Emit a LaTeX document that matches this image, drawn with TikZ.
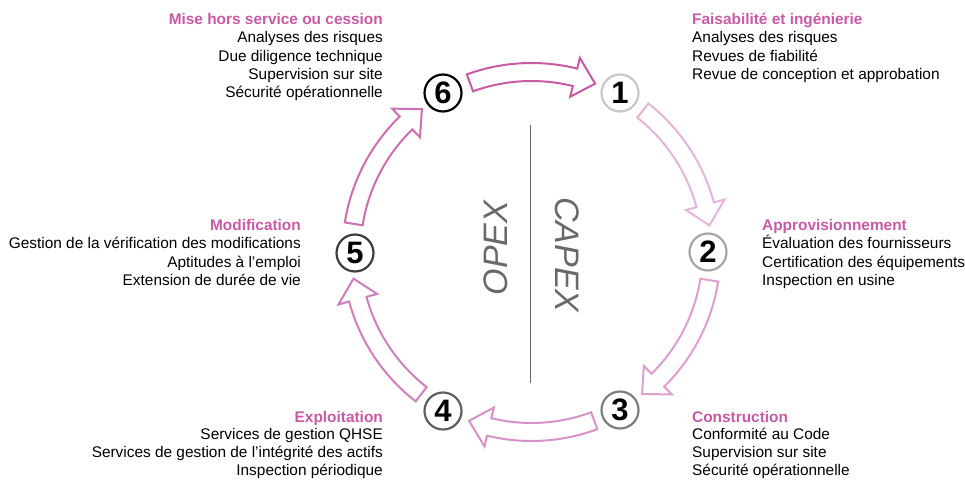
\documentclass[tikz,border=0pt]{standalone}
\usepackage{fontspec}
\setmainfont{Liberation Sans}
\usetikzlibrary{calc}
\definecolor{mPink}{RGB}{200,90,165}
\definecolor{mGray}{RGB}{105,105,105}
% arrow outlines, dark to light
\definecolor{arrSixOne}{RGB}{200,90,165}
\definecolor{arrOneTwo}{RGB}{230,180,218}
\definecolor{arrTwoThree}{RGB}{222,158,208}
\definecolor{arrThreeFour}{RGB}{216,144,200}
\definecolor{arrFourFive}{RGB}{208,126,190}
\definecolor{arrFiveSix}{RGB}{204,110,178}
% ring colours of the stage circles
\definecolor{ringOne}{RGB}{200,200,200}
\definecolor{ringTwo}{RGB}{165,165,165}
\definecolor{ringThree}{RGB}{125,125,125}
\definecolor{ringFour}{RGB}{95,95,95}
\definecolor{ringFive}{RGB}{60,60,60}
\definecolor{ringSix}{RGB}{0,0,0}

\begin{document}
\begin{tikzpicture}[x=1pt, y=-1pt,
    stage/.style={circle, fill=white, line width=2.2pt, minimum size=37pt, inner sep=0pt,
      font=\fontsize{31}{31}\selectfont\bfseries},
    phasetitle/.style={inner sep=0pt, text=mPink, font=\fontsize{15.4}{18}\selectfont\bfseries},
    phaseitem/.style={inner sep=0pt, font=\fontsize{15.4}{18}\selectfont},
    cyclearrow/.style={line width=2pt, line join=miter},
    budget/.style={text=mGray, font=\fontsize{34}{34}\selectfont\itshape}]
  \useasboundingbox (0,0) rectangle (965,479);
  \coordinate (hub) at (531.5,252);

  % curved hollow arrows between the stages
  \foreach \a/\b/\col in {-110/-69.3/arrSixOne, -51.8/-8.5/arrOneTwo, 9/52.1/arrTwoThree,
      69.6/110.3/arrThreeFour, 127.8/171.5/arrFourFive, 189/232.5/arrFiveSix} {
    \pgfmathsetmacro\h{\b-6.7}
    \draw[cyclearrow, draw=\col] ($(hub)+(\a:189)$) arc[start angle=\a, end angle=\h, radius=189]
      -- ($(hub)+(\h:200)$) -- ($(hub)+(\b:180)$) -- ($(hub)+(\h:160)$)
      -- ($(hub)+(\h:171)$) arc[start angle=\h, end angle=\a, radius=171] -- cycle;
  }

  % stage circles
  \node[stage, draw=ringOne] (n1) at (620,93) {1};
  \node[stage, draw=ringTwo] (n2) at (708,252) {2};
  \node[stage, draw=ringThree] (n3) at (620,410) {3};
  \node[stage, draw=ringFour] (n4) at (443,411) {4};
  \node[stage, draw=ringFive] (n5) at (355,253) {5};
  \node[stage, draw=ringSix] (n6) at (443,93) {6};

  % OPEX / CAPEX split
  \coordinate (splittop) at (530.7,125);
  \coordinate (splitbot) at (530.7,383);
  \draw[mGray, line width=1.3pt] (splittop) -- (splitbot);
  \node[budget, rotate=90] (opex) at (496,248) {OPEX};
  \node[budget, rotate=-90] (capex) at (567,255) {CAPEX};

  % 1 - feasibility
  \node[phasetitle, anchor=base west] (t1) at (692,24.5) {Faisabilité et ingénierie};
  \foreach \txt [count=\i] in {Analyses des risques, Revues de fiabilité, Revue de conception et approbation}
    \node[phaseitem, anchor=base west] (t1-\i) at (692,24.5+18.3*\i) {\txt};
  % 2 - procurement
  \node[phasetitle, anchor=base west] (t2) at (762,230.5) {Approvisionnement};
  \foreach \txt [count=\i] in {Évaluation des fournisseurs, Certification des équipements, Inspection en usine}
    \node[phaseitem, anchor=base west] (t2-\i) at (762,230.5+18.3*\i) {\txt};
  % 3 - construction
  \node[phasetitle, anchor=base west] (t3) at (692,422) {Construction};
  \foreach \txt [count=\i] in {Conformité au Code, Supervision sur site, Sécurité opérationnelle}
    \node[phaseitem, anchor=base west] (t3-\i) at (692,422+17.8*\i) {\txt};
  % 4 - operation
  \node[phasetitle, anchor=base east] (t4) at (383,422) {Exploitation};
  \foreach \txt [count=\i] in {Services de gestion QHSE, Services de gestion de l’intégrité des actifs, Inspection périodique}
    \node[phaseitem, anchor=base east] (t4-\i) at (383,422+17.8*\i) {\txt};
  % 5 - modification
  \node[phasetitle, anchor=base east] (t5) at (301,230.5) {Modification};
  \foreach \txt [count=\i] in {Gestion de la vérification des modifications, Aptitudes à l’emploi, Extension de durée de vie}
    \node[phaseitem, anchor=base east] (t5-\i) at (301,230.5+18.3*\i) {\txt};
  % 6 - decommissioning
  \node[phasetitle, anchor=base east] (t6) at (383,24.5) {Mise hors service ou cession};
  \foreach \txt [count=\i] in {Analyses des risques, Due diligence technique, Supervision sur site, Sécurité opérationnelle}
    \node[phaseitem, anchor=base east] (t6-\i) at (383,24.5+18.3*\i) {\txt};
\end{tikzpicture}
\end{document}
